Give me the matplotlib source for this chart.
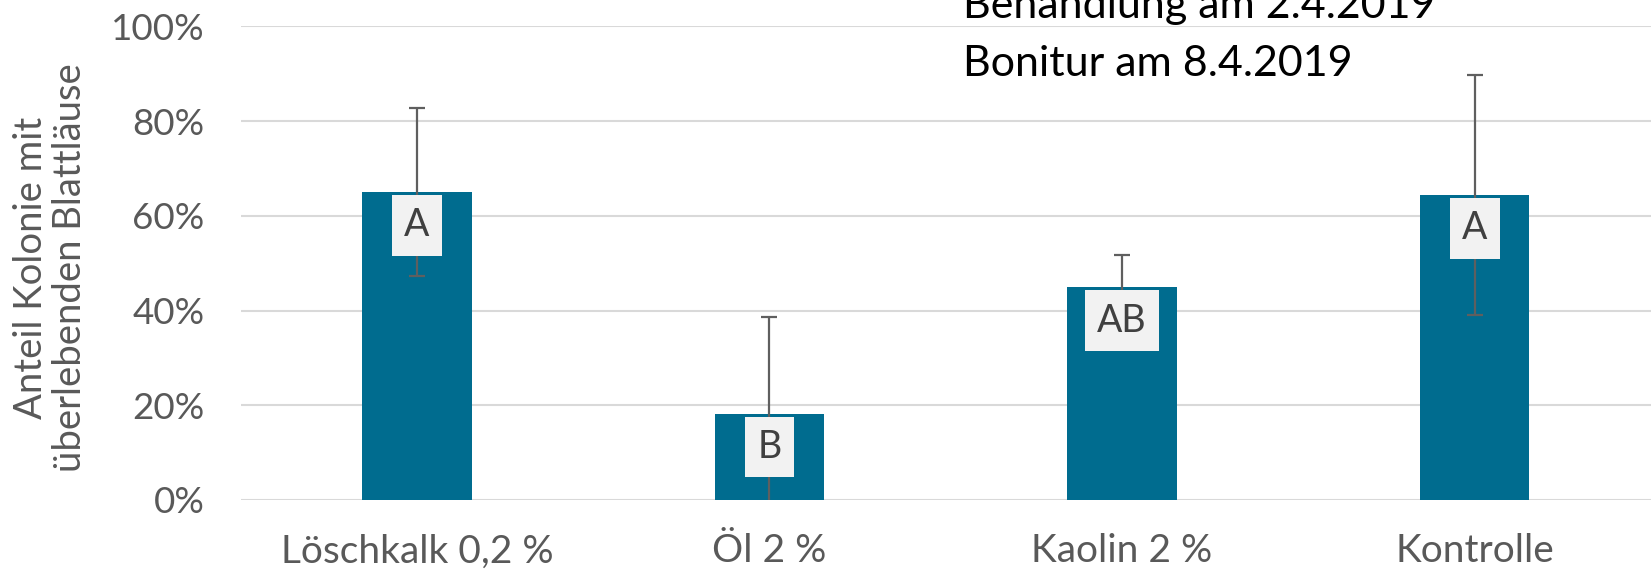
import matplotlib
matplotlib.use("Agg")
import matplotlib.pyplot as plt
from matplotlib.ticker import PercentFormatter

plt.rcParams['font.family'] = ['Lato', 'DejaVu Sans']

# values
categories = ['Löschkalk 0,2 %', 'Öl 2 %', 'Kaolin 2 %', 'Kontrolle']
anteil = [0.65, 0.182, 0.449, 0.644]
fehler = [0.177, 0.205, 0.069, 0.254]
buchstaben = ['A', 'B', 'AB', 'A']

bar_color = '#006C8F'
grey_text = '#595959'

fig = plt.figure(figsize=(16.51, 5.73), dpi=100)
ax = fig.add_axes([0.1457, 0.1274, 0.8543, 0.8267])

x = range(len(categories))
ax.bar(x, anteil, width=0.31, color=bar_color, zorder=2)
ax.errorbar(x, anteil, yerr=fehler, fmt='none', ecolor='#5F5F5F',
            elinewidth=1.6, capsize=6, capthick=1.6, zorder=3)

for xi, v, b in zip(x, anteil, buchstaben):
    ax.annotate(b, (xi, v), xytext=(0, -11), textcoords='offset points',
                ha='center', va='top', fontsize=27, color='#404040', zorder=4,
                bbox=dict(boxstyle='square,pad=0.33', fc='#F2F2F2', ec='none'))

ax.set_ylim(0, 1.0)
ax.set_xlim(-0.5, len(categories) - 0.5)
ax.set_yticks([0, 0.2, 0.4, 0.6, 0.8, 1.0])
ax.yaxis.set_major_formatter(PercentFormatter(1.0, decimals=0))
ax.set_xticks(list(x))
ax.set_xticklabels(categories)
ax.grid(axis='y', color='#D9D9D9', linewidth=1.5, zorder=0)
ax.set_axisbelow(True)
for s in ax.spines.values():
    s.set_visible(False)
ax.tick_params(axis='y', length=0, labelsize=26.5, colors=grey_text, pad=26)
ax.tick_params(axis='x', length=0, labelsize=28, colors=grey_text, pad=24)
ax.set_ylabel('Anteil Kolonie mit\nüberlebenden Blattläuse', fontsize=27.5,
              color=grey_text, linespacing=1.12)
ax.yaxis.set_label_coords(-0.108, 0.49)

fig.text(0.583, 0.9686, 'Behandlung am 2.4.2019', fontsize=31, color='black',
         va='baseline', ha='left', zorder=5)
fig.text(0.583, 0.867, 'Bonitur am 8.4.2019', fontsize=31, color='black',
         va='baseline', ha='left')

fig.savefig('out.png', dpi=100)
